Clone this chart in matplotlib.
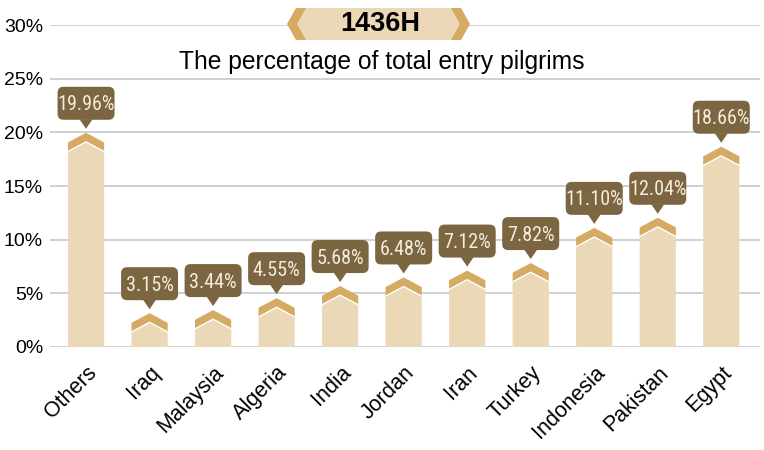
import matplotlib
matplotlib.use('Agg')
import matplotlib.pyplot as plt
import matplotlib.transforms as mtransforms
from matplotlib.patches import Polygon, FancyBboxPatch

# Дані
countries = ['Others', 'Iraq', 'Malaysia', 'Algeria', 'India', 'Jordan',
             'Iran', 'Turkey', 'Indonesia', 'Pakistan', 'Egypt']
percentages = [19.96, 3.15, 3.44, 4.55, 5.68, 6.48, 7.12, 7.82, 11.10, 12.04, 18.66]
value_labels = ['19.96%', '3.15%', '3.44%', '4.55%', '5.68%', '6.48%',
                '7.12%', '7.82%', '11.10%', '12.04%', '18.66%']
y_ticks = [0, 5, 10, 15, 20, 25, 30]
y_tick_labels = ['0%', '5%', '10%', '15%', '20%', '25%', '30%']
banner_text = '1436H'
subtitle = 'The percentage of total entry pilgrims'

BODY = '#ebd8b7'
CAP = '#d5aa62'
BOX = '#7b6641'
BOX_TEXT = '#f4ecdc'
GRID = '#c8c8c8'

plt.rcParams['font.family'] = ['Liberation Sans', 'DejaVu Sans']

fig = plt.figure(figsize=(7.64, 4.5), dpi=100)
ax = fig.add_axes([0.0654, 0.2289, 0.9294, 0.7155])

ax.set_xlim(-0.568, 10.61)
ax.set_ylim(0, 30)

half_w = 0.285
rise = 0.9     # висота "шеврону"
thick = 0.85   # товщина верхньої смуги

for i, v in enumerate(percentages):
    # тіло стовпця
    body = Polygon([(i - half_w, 0), (i + half_w, 0),
                    (i + half_w, v - rise - thick), (i, v - thick),
                    (i - half_w, v - rise - thick)],
                   closed=True, facecolor=BODY, edgecolor='none', zorder=2)
    ax.add_patch(body)
    # верхня смуга-шеврон
    cap = Polygon([(i - half_w, v - rise), (i, v), (i + half_w, v - rise),
                   (i + half_w, v - rise - thick), (i, v - thick),
                   (i - half_w, v - rise - thick)],
                  closed=True, facecolor=CAP, edgecolor='none', zorder=3)
    ax.add_patch(cap)
    ax.plot([i - half_w, i, i + half_w],
            [v - rise - thick, v - thick, v - rise - thick],
            color='white', lw=1.0, zorder=4, solid_capstyle='butt')

    # підпис у "бульбашці" (координати в дюймах від вершини)
    trans = fig.dpi_scale_trans + mtransforms.ScaledTranslation(i, v, ax.transData)
    box = FancyBboxPatch((-0.285, 0.13), 0.57, 0.33,
                         boxstyle='round,pad=0,rounding_size=0.06',
                         facecolor=BOX, edgecolor='none',
                         transform=trans, clip_on=False, zorder=5)
    ax.add_patch(box)
    tip = Polygon([(-0.065, 0.135), (0.065, 0.135), (0, 0.04)], closed=True,
                  facecolor=BOX, edgecolor='none', transform=trans,
                  clip_on=False, zorder=5)
    ax.add_patch(tip)
    ax.text(0, 0.28, value_labels[i], transform=trans, ha='center', va='center',
            color=BOX_TEXT, fontsize=14.5,
            family=['Roboto Condensed', 'Liberation Sans Narrow', 'Roboto'],
            zorder=6)

ax.set_yticks(y_ticks)
ax.set_yticklabels(y_tick_labels, fontsize=14)
ax.set_xticks(range(len(countries)))
ax.set_xticklabels(countries, fontsize=15.5, rotation=45, ha='right', va='top',
                   rotation_mode='anchor')
ax.tick_params(axis='y', length=0, pad=5)
ax.tick_params(axis='x', length=0, pad=11)
ax.grid(axis='y', color=GRID, lw=1.2, zorder=0)
ax.set_axisbelow(True)
for s in ax.spines.values():
    s.set_visible(False)

# банер із заголовком
px = lambda x: x / 764
py = lambda y: 1 - y / 450
outer = Polygon([(px(287), py(24)), (px(296), py(8)), (px(461), py(8)),
                 (px(470), py(24)), (px(461), py(40)), (px(296), py(40))],
                closed=True, facecolor=CAP, edgecolor='none',
                transform=fig.transFigure, clip_on=False, zorder=10)
inner = Polygon([(px(297), py(24)), (px(306), py(8)), (px(451), py(8)),
                 (px(460), py(24)), (px(451), py(40)), (px(306), py(40))],
                closed=True, facecolor='#ecd8b6', edgecolor='none',
                transform=fig.transFigure, clip_on=False, zorder=11)
ax.add_patch(outer)
ax.add_patch(inner)
ax.text(px(380), py(24), banner_text, transform=fig.transFigure,
        ha='center', va='center', fontsize=19.5, fontweight='bold',
        color='black', zorder=12)
fig.text(0.5, py(62), subtitle, ha='center', va='center', fontsize=17.7)

fig.savefig('out.png', dpi=100)
